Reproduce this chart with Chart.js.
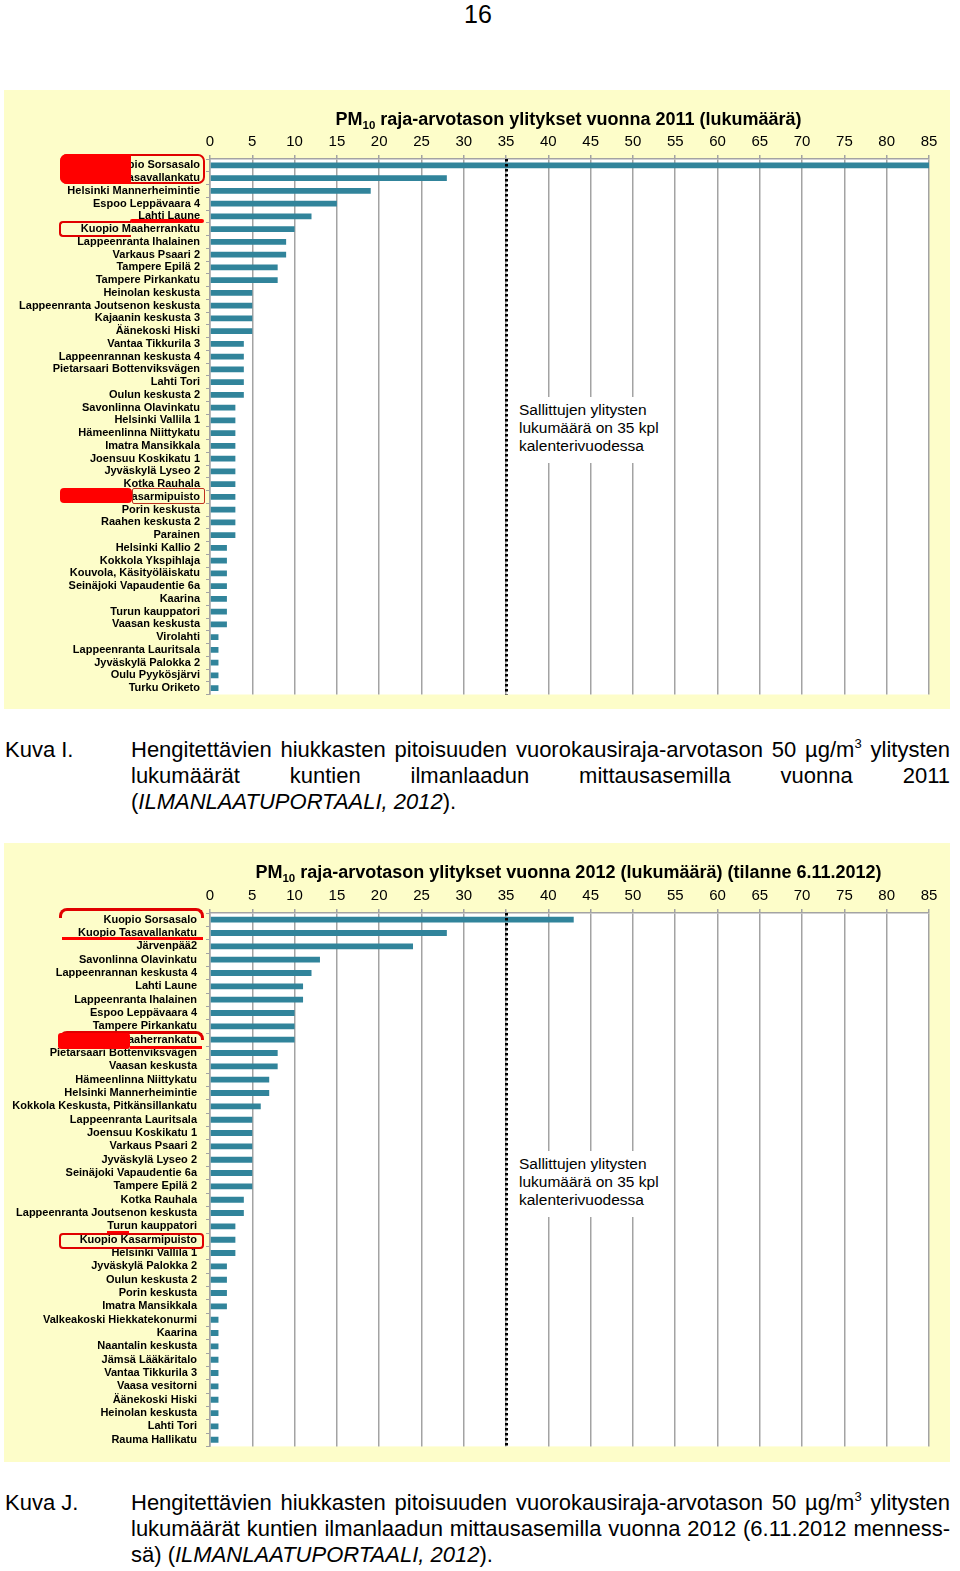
<!DOCTYPE html>
<html>
<head>
<meta charset="utf-8">
<script src="https://cdn.jsdelivr.net/npm/chart.js@4.4.0/dist/chart.umd.min.js"></script>
<style>
body { margin: 0; background: #fff; font-family: "Liberation Sans", Arial, sans-serif; }
#page { position: relative; width: 960px; height: 1571px; overflow: hidden; }
.pagenum { position: absolute; left: 440px; top: 0; width: 76px; text-align: center; font-size: 25px; line-height: 28px; }
.panel { position: absolute; left: 4px; width: 946px; height: 619px; background: #fdfdc9; }
.panel canvas { position: absolute; left: 0; top: 0; }
.ctitle { position: absolute; left: 210px; width: 717px; text-align: center; font-weight: bold; font-size: 18px; line-height: 22px; white-space: nowrap; }
.ctitle sub { font-size: 11.5px; vertical-align: -4px; line-height: 0; }
.note { position: absolute; left: 511px; width: 150px; padding: 4px 0 8px 8px; background: #fff; font-size: 15.5px; line-height: 18px; white-space: nowrap; }
.cap { position: absolute; left: 0; width: 960px; font-size: 22px; }
.kuva { position: absolute; left: 5px; top: 0; line-height: 26px; }
.line { position: relative; left: 131px; width: 819px; height: 26px; line-height: 26px; white-space: nowrap; text-align: left; }
.j { text-align: justify; text-align-last: justify; }
.line sup { font-size: 13px; vertical-align: 9px; line-height: 0; }
.mk { position: absolute; box-sizing: border-box; }
.fill { background: #ff0000; }
</style>
</head>
<body>
<div id="page">
  <div class="pagenum">16</div>

  <div class="panel" style="top:90px"><canvas id="c2011" width="946" height="619"></canvas></div>
  <div class="ctitle" style="top:108px">PM<sub>10</sub> raja-arvotason ylitykset vuonna 2011 (lukumäärä)</div>
  <div class="note" style="top:397px">Sallittujen ylitysten<br>lukumäärä on 35 kpl<br>kalenterivuodessa</div>

  <div class="cap" style="top:737px">
    <div class="kuva">Kuva I.</div>
    <div class="line j">Hengitettävien hiukkasten pitoisuuden vuorokausiraja-arvotason 50 µg/m<sup>3</sup> ylitysten</div>
    <div class="line j">lukumäärät kuntien ilmanlaadun mittausasemilla vuonna 2011</div>
    <div class="line">(<i>ILMANLAATUPORTAALI, 2012</i>).</div>
  </div>

  <div class="panel" style="top:843px"><canvas id="c2012" width="946" height="619"></canvas></div>
  <div class="ctitle" style="top:861px">PM<sub>10</sub> raja-arvotason ylitykset vuonna 2012 (lukumäärä) (tilanne 6.11.2012)</div>
  <div class="note" style="top:1151px">Sallittujen ylitysten<br>lukumäärä on 35 kpl<br>kalenterivuodessa</div>

  <div class="cap" style="top:1490px">
    <div class="kuva">Kuva J.</div>
    <div class="line j">Hengitettävien hiukkasten pitoisuuden vuorokausiraja-arvotason 50 µg/m<sup>3</sup> ylitysten</div>
    <div class="line j">lukumäärät kuntien ilmanlaadun mittausasemilla vuonna 2012 (6.11.2012 menness-</div>
    <div class="line">sä) (<i>ILMANLAATUPORTAALI, 2012</i>).</div>
  </div>

  <!-- hand drawn red marks, 2011 -->
  <div class="mk" style="left:60px;top:154px;width:145px;height:30px;border:2px solid #e00000;border-radius:7px"></div>
  <div class="mk fill" style="left:60px;top:154px;width:71px;height:30px;border-radius:7px 0 0 7px"></div>
  <div class="mk fill" style="left:130px;top:219px;width:74px;height:4px;border-radius:2px"></div>
  <div class="mk" style="left:59px;top:221px;width:72px;height:16px;border:2px solid #e00000;border-right:none;border-radius:4px 0 0 4px"></div>
  <div class="mk fill" style="left:60px;top:488px;width:72px;height:15px;border-radius:4px"></div>
  <div class="mk" style="left:132px;top:488px;width:73px;height:16px;border:1.5px solid #c03020;border-radius:2px"></div>

  <!-- hand drawn red marks, 2012 -->
  <div class="mk" style="left:59px;top:908px;width:145px;height:10px;border:3px solid #e00000;border-bottom:none;border-radius:8px 8px 0 0"></div>
  <div class="mk fill" style="left:62px;top:937px;width:141px;height:2.5px"></div>
  <div class="mk" style="left:59px;top:1031px;width:145px;height:9px;border:3px solid #e00000;border-bottom:none;border-radius:8px 8px 0 0"></div>
  <div class="mk fill" style="left:58px;top:1033px;width:72px;height:16px;border-radius:3px"></div>
  <div class="mk fill" style="left:130px;top:1046px;width:72px;height:2.5px"></div>
  <div class="mk fill" style="left:107px;top:1231px;width:22px;height:2px"></div>
  <div class="mk" style="left:59px;top:1233px;width:145px;height:16px;border:2px solid #e00000;border-radius:4px"></div>
</div>

<script>
// 2011 data
var labels2011 = ["Kuopio Sorsasalo", "Kuopio Tasavallankatu", "Helsinki Mannerheimintie", "Espoo Leppävaara 4",
    "Lahti Laune", "Kuopio Maaherrankatu", "Lappeenranta Ihalainen", "Varkaus Psaari 2", "Tampere Epilä 2",
    "Tampere Pirkankatu", "Heinolan keskusta", "Lappeenranta Joutsenon keskusta", "Kajaanin keskusta 3",
    "Äänekoski Hiski", "Vantaa Tikkurila 3", "Lappeenrannan keskusta 4", "Pietarsaari Bottenviksvägen",
    "Lahti Tori", "Oulun keskusta 2", "Savonlinna Olavinkatu", "Helsinki Vallila 1", "Hämeenlinna Niittykatu",
    "Imatra Mansikkala", "Joensuu Koskikatu 1", "Jyväskylä Lyseo 2", "Kotka Rauhala", "Kuopio Kasarmipuisto",
    "Porin keskusta", "Raahen keskusta 2", "Parainen", "Helsinki Kallio 2", "Kokkola Ykspihlaja",
    "Kouvola, Käsityöläiskatu", "Seinäjoki Vapaudentie 6a", "Kaarina", "Turun kauppatori", "Vaasan keskusta",
    "Virolahti", "Lappeenranta Lauritsala", "Jyväskylä Palokka 2", "Oulu Pyykösjärvi", "Turku Oriketo"];
var values2011 = [85, 28, 19, 15, 12, 10, 9, 9, 8, 8, 5, 5, 5, 5, 4, 4, 4, 4, 4, 3, 3, 3, 3, 3, 3, 3, 3, 3, 3, 3,
    2, 2, 2, 2, 2, 2, 2, 1, 1, 1, 1, 1];

// 2012 data (tilanne 6.11.2012)
var labels2012 = ["Kuopio Sorsasalo", "Kuopio Tasavallankatu", "Järvenpää2", "Savonlinna Olavinkatu",
    "Lappeenrannan keskusta 4", "Lahti Laune", "Lappeenranta Ihalainen", "Espoo Leppävaara 4", "Tampere Pirkankatu",
    "Kuopio Maaherrankatu", "Pietarsaari Bottenviksvägen", "Vaasan keskusta", "Hämeenlinna Niittykatu",
    "Helsinki Mannerheimintie", "Kokkola Keskusta, Pitkänsillankatu", "Lappeenranta Lauritsala", "Joensuu Koskikatu 1",
    "Varkaus Psaari 2", "Jyväskylä Lyseo 2", "Seinäjoki Vapaudentie 6a", "Tampere Epilä 2", "Kotka Rauhala",
    "Lappeenranta Joutsenon keskusta", "Turun kauppatori", "Kuopio Kasarmipuisto", "Helsinki Vallila 1",
    "Jyväskylä Palokka 2", "Oulun keskusta 2", "Porin keskusta", "Imatra Mansikkala", "Valkeakoski Hiekkatekonurmi",
    "Kaarina", "Naantalin keskusta", "Jämsä Lääkäritalo", "Vantaa Tikkurila 3", "Vaasa vesitorni", "Äänekoski Hiski",
    "Heinolan keskusta", "Lahti Tori", "Rauma Hallikatu"];
var values2012 = [43, 28, 24, 13, 12, 11, 11, 10, 10, 10, 8, 8, 7, 7, 6, 5, 5, 5, 5, 5, 5, 4, 4, 3, 3, 3,
    2, 2, 2, 2, 1, 1, 1, 1, 1, 1, 1, 1, 1, 1];

var xMax = 85;
var xStep = 5;
var allowed = 35;   // sallittujen ylitysten lukumäärä

var barColor = '#31849b';
var gridColor = '#a3a3a3';

// white plot area on the yellow panel
var plotBg = {
    id: 'plotBg',
    beforeDraw: function (chart) {
        var a = chart.chartArea;
        var ctx = chart.ctx;
        ctx.save();
        ctx.fillStyle = '#ffffff';
        ctx.fillRect(a.left, a.top, a.right - a.left, a.bottom - a.top);
        ctx.restore();
    }
};

// dotted line at the limit value
var limitLine = {
    id: 'limitLine',
    afterDatasetsDraw: function (chart) {
        var a = chart.chartArea;
        var x = Math.round(chart.scales.x.getPixelForValue(allowed)) + 0.5;
        var ctx = chart.ctx;
        ctx.save();
        ctx.strokeStyle = '#000';
        ctx.lineWidth = 3;
        ctx.setLineDash([2.5, 2.5]);
        ctx.beginPath();
        ctx.moveTo(x, a.top);
        ctx.lineTo(x, a.bottom);
        ctx.stroke();
        ctx.restore();
    }
};

function drawChart(id, labels, values, padTop, padBottom, labelPad) {
    var ctx = document.getElementById(id).getContext('2d');
    return new Chart(ctx, {
        type: 'bar',
        data: {
            labels: labels,
            datasets: [{
                data: values,
                backgroundColor: barColor,
                borderWidth: 0,
                barPercentage: 0.44,
                categoryPercentage: 1
            }]
        },
        options: {
            indexAxis: 'y',
            responsive: false,
            animation: false,
            layout: { padding: { top: padTop, right: 21, bottom: padBottom, left: 0 } },
            plugins: { legend: { display: false }, tooltip: { enabled: false }, title: { display: false } },
            scales: {
                x: {
                    position: 'top',
                    min: 0,
                    max: xMax,
                    afterFit: function (s) { s.height = 30; },
                    ticks: { stepSize: xStep, color: '#000', padding: 4, font: { family: 'Liberation Sans', size: 15 } },
                    grid: { color: gridColor, lineWidth: 1.5, tickLength: 4 },
                    border: { color: gridColor, width: 1.5 }
                },
                y: {
                    afterFit: function (s) { s.width = 206; },
                    ticks: { autoSkip: false, color: '#000', padding: labelPad,
                        font: { family: 'Liberation Sans', size: 11, weight: 'bold' } },
                    grid: { drawOnChartArea: false, color: gridColor, tickLength: 4, offset: true },
                    border: { color: gridColor, width: 1.5 }
                }
            }
        },
        plugins: [plotBg, limitLine]
    });
}

drawChart('c2011', labels2011, values2011, 39, 14.5, 6);
drawChart('c2012', labels2012, values2012, 40, 12.5, 9);
</script>
</body>
</html>
